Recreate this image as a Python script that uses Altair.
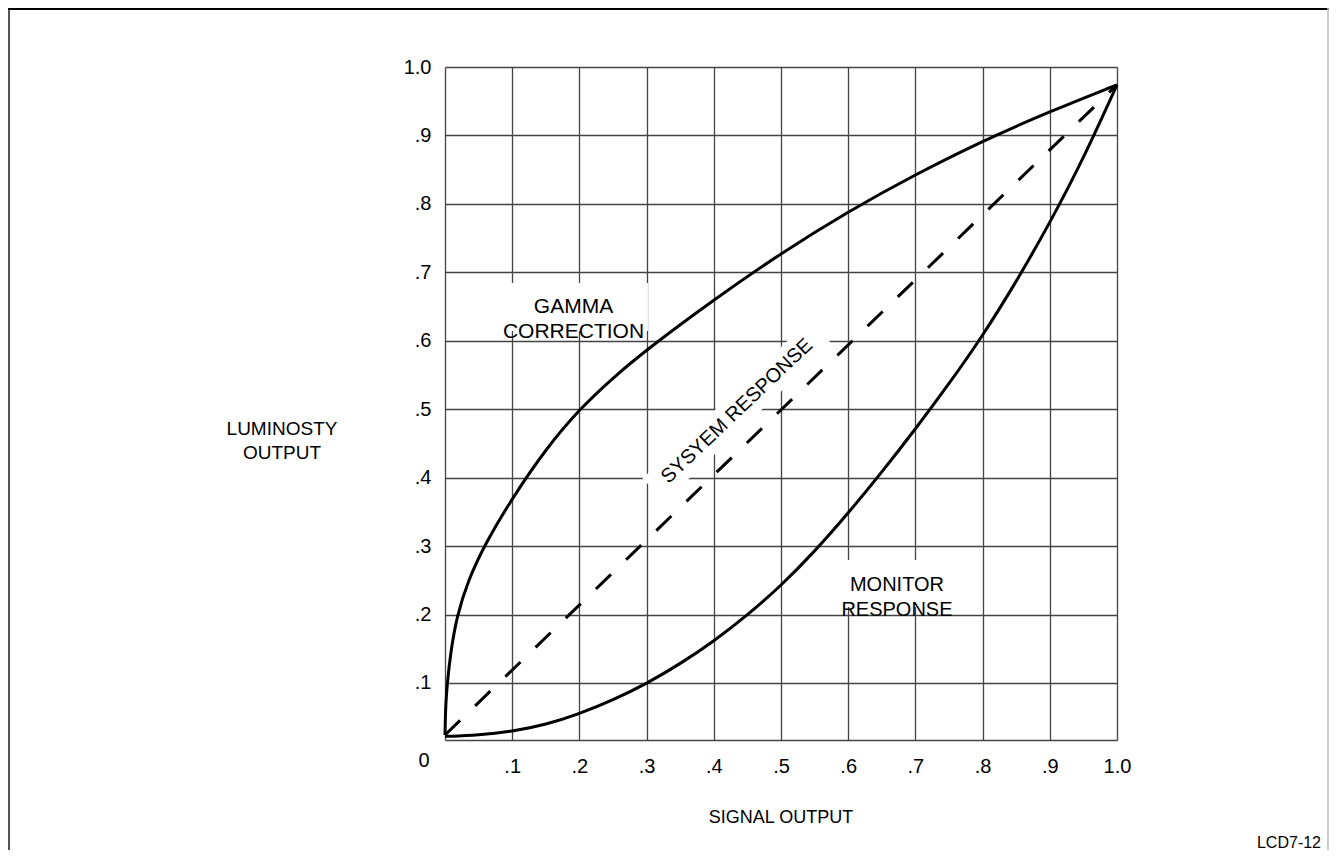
import altair as alt
import pandas as pd

# ---- data ----
x_ticks = [0.1, 0.2, 0.3, 0.4, 0.5, 0.6, 0.7, 0.8, 0.9, 1.0]
y_ticks = [0.1, 0.2, 0.3, 0.4, 0.5, 0.6, 0.7, 0.8, 0.9, 1.0]
y_floor = 0.0167

gamma_x = [0.0, 0.0005, 0.0015, 0.0035, 0.008, 0.0174, 0.034, 0.0595, 0.1, 0.15,
           0.2, 0.25, 0.3, 0.4, 0.5, 0.6, 0.7, 0.8, 0.9, 1.0]
gamma_y = [0.024, 0.05, 0.075, 0.1, 0.142, 0.197, 0.249, 0.303, 0.37, 0.442,
           0.5, 0.546, 0.587, 0.66, 0.728, 0.789, 0.843, 0.892, 0.935, 0.974]

monitor_x = [0.0, 0.05, 0.1, 0.15, 0.2, 0.25, 0.3, 0.35, 0.4, 0.45, 0.5, 0.55,
             0.6, 0.65, 0.7, 0.75, 0.8, 0.85, 0.9, 0.95, 1.0]
monitor_y = [0.022, 0.024, 0.029, 0.039, 0.055, 0.075, 0.099, 0.128, 0.161, 0.199,
             0.242, 0.292, 0.348, 0.408, 0.471, 0.537, 0.607, 0.686, 0.772, 0.866, 0.974]

system_x = [0.0, 1.0]
system_y = [0.024, 0.974]

label_text = ["GAMMA\nCORRECTION", "MONITOR\nRESPONSE"]
label_size = [21, 20]
label_x = [0.1912, 0.6726]
label_y = [0.650, 0.2436]
box_x1 = [0.0818, 0.588]
box_x2 = [0.302, 0.759]
box_y1 = [0.6143, 0.211]
box_y2 = [0.6844, 0.2797]

diag_text = ["SYSYEM RESPONSE"]
diag_x = [0.4345]
diag_y = [0.4974]

FONT = "Liberation Sans"
W, H = 672, 673

gamma_df = pd.DataFrame({"x": gamma_x, "y": gamma_y, "s": "gamma"})
monitor_df = pd.DataFrame({"x": monitor_x, "y": monitor_y, "s": "monitor"})
curves_df = pd.concat([gamma_df, monitor_df], ignore_index=True)
system_df = pd.DataFrame({"x": system_x, "y": system_y})
labels_df = pd.DataFrame({"t": label_text, "x": label_x, "y": label_y, "fs": label_size})
boxes_df = pd.DataFrame({"x": box_x1, "x2": box_x2, "y": box_y1, "y2": box_y2})
diag_df = pd.DataFrame({"t": diag_text, "x": diag_x, "y": diag_y})

xs = alt.Scale(domain=[0, 1.0], nice=False, zero=False)
ys = alt.Scale(domain=[y_floor, 1.0], nice=False, zero=False)

lbl = "datum.value >= 1 ? '1.0' : '.' + format(datum.value*10, '.0f')"
x_axis = alt.Axis(values=x_ticks, grid=True, ticks=False, labelPadding=16,
                  labelExpr=lbl, labelBaseline="top", labelFlush=False, labelOverlap=False)
y_axis = alt.Axis(values=y_ticks, grid=True, ticks=False, labelPadding=14,
                  labelExpr=lbl, labelFlush=False, labelOverlap=False)

X = alt.X("x:Q", scale=xs, axis=x_axis, title=None)
Y = alt.Y("y:Q", scale=ys, axis=y_axis, title=None)

boxes = alt.Chart(boxes_df).mark_rect(color="white", opacity=1).encode(
    x=X, x2="x2:Q", y=Y, y2="y2:Q")

diag_box = alt.Chart(diag_df).mark_point(
    shape="M-1,-0.14L1,-0.14L1,0.14L-1,0.14Z", filled=True, color="white",
    opacity=1, strokeWidth=0, size=52900, angle=316.5).encode(x=X, y=Y)

curves = alt.Chart(curves_df).mark_line(
    interpolate="basis", color="black", strokeWidth=3).encode(
    x=X, y=Y, detail="s:N", order="x:Q")

system = alt.Chart(system_df).mark_line(
    color="black", strokeWidth=3, strokeDash=[21, 21]).encode(x=X, y=Y)

labels = alt.Chart(labels_df).mark_text(
    font=FONT, color="black", lineBreak="\n", lineHeight=25,
    align="center", baseline="middle").encode(
    x=X, y=Y, text="t:N", size=alt.Size("fs:Q", scale=None, legend=None))

diag = alt.Chart(diag_df).mark_text(
    font=FONT, fontSize=20, color="black", angle=316.5,
    align="center", baseline="middle").encode(x=X, y=Y, text="t:N")

one = pd.DataFrame({"t": ["0"]})
zero_lbl = alt.Chart(one).mark_text(
    font=FONT, fontSize=20, color="black", align="center", baseline="middle").encode(
    text="t:N", x=alt.value(-21), y=alt.value(694))

ytitle = alt.Chart(pd.DataFrame({"t": ["LUMINOSTY\nOUTPUT"]})).mark_text(
    font=FONT, fontSize=19, color="black", align="center", baseline="middle",
    lineBreak="\n", lineHeight=24).encode(
    text="t:N", x=alt.value(-163), y=alt.value(362))

xtitle = alt.Chart(pd.DataFrame({"t": ["SIGNAL OUTPUT"]})).mark_text(
    font=FONT, fontSize=18, color="black", align="center", baseline="middle").encode(
    text="t:N", x=alt.value(336), y=alt.value(751))

code_lbl = alt.Chart(pd.DataFrame({"t": ["LCD7-12"]})).mark_text(
    font=FONT, fontSize=16, color="black", align="right", baseline="alphabetic").encode(
    text="t:N", x=alt.value(876), y=alt.value(781))

frame_left = alt.Chart(one).mark_rule(color="#555", strokeWidth=2).encode(
    x=alt.value(-436), y=alt.value(-59), y2=alt.value(783))
frame_top = alt.Chart(one).mark_rule(color="black", strokeWidth=2).encode(
    x=alt.value(-437), x2=alt.value(884), y=alt.value(-58))
frame_right = alt.Chart(one).mark_rule(color="#bbb", strokeWidth=1.5).encode(
    x=alt.value(883), y=alt.value(-59), y2=alt.value(783))

chart = alt.layer(
    boxes, diag_box, curves, system, labels, diag, zero_lbl, ytitle, xtitle,
    code_lbl, frame_left, frame_top, frame_right
).properties(
    width=W, height=H,
    padding={"left": 437, "top": 59, "right": 212, "bottom": 110},
    autosize=alt.AutoSizeParams(type="none"),
    background="white",
).configure_view(
    strokeWidth=0
).configure_axis(
    labelFont=FONT, labelFontSize=20, labelColor="black",
    gridColor="#444", gridWidth=1.3, gridOpacity=1,
    domainColor="#444", domainWidth=1.3,
)

chart.save("out.html", embed_options={"renderer": "svg", "actions": False})
